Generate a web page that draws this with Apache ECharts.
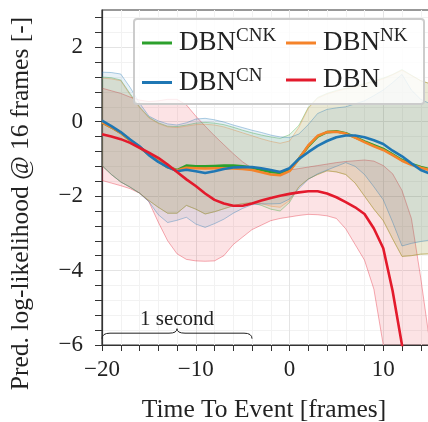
<!DOCTYPE html>
<html>
<head>
<meta charset="utf-8">
<script src="https://cdn.jsdelivr.net/npm/echarts@6/dist/echarts.min.js"></script>
<style>
html, body { margin: 0; padding: 0; background: #fff; }
#chart { width: 428px; height: 422px; }
</style>
</head>
<body>
<div id="chart"></div>
<script>
// time to event, one point per frame
var frames = [-20, -19, -18, -17, -16, -15, -14, -13, -12, -11, -10, -9, -8, -7, -6, -5, -4, -3, -2, -1,
    0, 1, 2, 3, 4, 5, 6, 7, 8, 9, 10, 11, 12, 13, 14, 15];

// mean predicted log-likelihood
var cnkMean = [-0.02, -0.15, -0.3, -0.5, -0.68, -0.88, -1.05, -1.22, -1.3, -1.18, -1.2, -1.2, -1.19, -1.18, -1.18, -1.2, -1.23, -1.3, -1.35, -1.38,
    -1.3, -1.0, -0.66, -0.4, -0.28, -0.26, -0.31, -0.42, -0.53, -0.63, -0.73, -0.88, -1.03, -1.14, -1.22, -1.28];
var nkMean = [-0.02, -0.15, -0.3, -0.5, -0.68, -0.88, -1.05, -1.22, -1.31, -1.24, -1.25, -1.26, -1.25, -1.25, -1.26, -1.27, -1.3, -1.36, -1.42, -1.44,
    -1.33, -1.0, -0.64, -0.38, -0.28, -0.27, -0.32, -0.43, -0.55, -0.66, -0.76, -0.9, -1.05, -1.16, -1.24, -1.3];
var cnMean = [0.03, -0.12, -0.28, -0.48, -0.66, -0.9, -1.08, -1.22, -1.33, -1.29, -1.33, -1.38, -1.33, -1.27, -1.23, -1.22, -1.22, -1.25, -1.3, -1.35,
    -1.25, -1.0, -0.82, -0.65, -0.52, -0.42, -0.37, -0.37, -0.42, -0.5, -0.6, -0.78, -0.93, -1.12, -1.3, -1.4];
var dbnMean = [-0.34, -0.4, -0.47, -0.57, -0.7, -0.83, -0.97, -1.15, -1.35, -1.55, -1.73, -1.93, -2.1, -2.2, -2.26, -2.26, -2.2, -2.12, -2.05, -1.99,
    -1.94, -1.9, -1.87, -1.87, -1.93, -2.03, -2.16, -2.3, -2.48, -2.87, -3.4, -4.55, -6.0, -7.5, -9.0, -10.5];

// band limits
var cnkHi = [1.2, 1.18, 1.12, 0.75, 0.4, 0.12, -0.03, -0.12, -0.13, -0.09, -0.04, -0.02, -0.04, -0.08, -0.15, -0.23, -0.3, -0.36, -0.41, -0.45,
    -0.35, -0.1, 0.38, 0.65, 0.76, 0.84, 0.9, 0.95, 1.02, 1.1, 1.17, 1.27, 1.4, 1.25, 1.1, 1.02];
var cnkLo = [-1.18, -1.42, -1.62, -1.76, -1.92, -2.12, -2.3, -2.46, -2.46, -2.25, -2.35, -2.48, -2.42, -2.34, -2.26, -2.2, -2.18, -2.25, -2.35, -2.4,
    -2.17, -1.75, -1.54, -1.42, -1.32, -1.35, -1.42, -1.65, -2.0, -2.35, -2.66, -3.15, -3.62, -3.6, -3.56, -3.55];
var nkHi = [1.17, 1.15, 1.1, 0.72, 0.38, 0.1, -0.05, -0.14, -0.16, -0.12, -0.08, -0.07, -0.09, -0.14, -0.22, -0.3, -0.38, -0.46, -0.53, -0.58,
    -0.52, -0.15, 0.36, 0.63, 0.74, 0.82, 0.88, 0.93, 1.0, 1.08, 1.15, 1.26, 1.38, 1.24, 1.1, 1.02];
var nkLo = [-1.18, -1.42, -1.62, -1.76, -1.92, -2.12, -2.3, -2.46, -2.46, -2.25, -2.35, -2.48, -2.42, -2.34, -2.26, -2.2, -2.18, -2.2, -2.27, -2.3,
    -2.12, -1.75, -1.54, -1.42, -1.32, -1.35, -1.42, -1.65, -2.0, -2.35, -2.66, -3.15, -3.62, -3.6, -3.56, -3.55];
var cnHi = [1.33, 1.32, 1.28, 0.92, 0.5, 0.15, 0.02, -0.06, -0.09, -0.03, 0.07, 0.09, 0.05, -0.01, -0.09, -0.16, -0.23, -0.29, -0.36, -0.41,
    -0.43, -0.33, -0.08, 0.22, 0.33, 0.37, 0.4, 0.48, 0.56, 0.7, 0.85, 1.05, 1.27, 0.85, 0.6, 0.48];
var cnLo = [-1.18, -1.42, -1.62, -1.76, -1.92, -2.15, -2.5, -2.71, -2.65, -2.57, -2.75, -2.84, -2.74, -2.62, -2.46, -2.33, -2.23, -2.21, -2.21, -2.2,
    -2.08, -1.8, -1.55, -1.4, -1.3, -1.2, -1.1, -1.2, -1.42, -1.75, -2.1, -2.7, -3.34, -3.27, -3.22, -3.18];
var dbnHi = [0.9, 0.83, 0.76, 0.66, 0.58, 0.54, 0.56, 0.6, 0.6, 0.45, 0.15, -0.12, -0.38, -0.62, -0.86, -1.08, -1.25, -1.3, -1.32, -1.33,
    -1.3, -1.26, -1.22, -1.18, -1.14, -1.1, -1.07, -1.05, -1.03, -1.06, -1.18, -1.4, -1.85, -2.6, -4.2, -6.0];
var dbnLo = [-1.58, -1.65, -1.72, -1.8, -1.92, -2.15, -2.7, -3.2, -3.55, -3.7, -3.74, -3.75, -3.74, -3.6, -3.3, -3.1, -2.9, -2.78, -2.66, -2.6,
    -2.56, -2.52, -2.49, -2.5, -2.53, -2.6, -2.88, -3.3, -3.72, -4.5, -6.0, -7.8, -9.6, -11.4, -13.2, -15.0];

var seriesNames = ['DBN^CNK', 'DBN^NK', 'DBN^CN', 'DBN'];
var yLabelValues = [-6, -4, -2, 0, 2];
var yTickValues = [];
for (var t = -15; t <= 7; t++) {
    yTickValues.push(+(t * 0.4).toFixed(1));
}

// annotation: brace over one second (16 frames)
var braceSpan = [-20, -4];
var braceLevel = -5.83;
var braceText = '1 second';

var serif = '"Liberation Serif", "Times New Roman", serif';
var ink = '#222222';
var colors = {
    cnk: '#2ca02c',
    nk: '#f5832a',
    cn: '#1f77b4',
    dbn: '#e31a2c'
};

function fade(hex, a) {
    var r = parseInt(hex.slice(1, 3), 16);
    var g = parseInt(hex.slice(3, 5), 16);
    var b = parseInt(hex.slice(5, 7), 16);
    return 'rgba(' + r + ',' + g + ',' + b + ',' + a + ')';
}

function minus(v) {
    return v < 0 ? '\u2212' + Math.abs(v) : '' + v;
}

function bandSeries(id, lo, hi, color, alpha) {
    return {
        type: 'custom',
        name: id,
        clip: true,
        silent: true,
        z: 1,
        data: frames.map(function (x, i) { return [x, lo[i], hi[i]]; }),
        encode: {x: 0, y: [1, 2]},
        renderItem: function (params, api) {
            if (params.dataIndex !== 0) {
                return;
            }
            var top = [];
            var bottom = [];
            for (var i = 0; i < frames.length; i++) {
                top.push(api.coord([frames[i], hi[i]]));
                bottom.unshift(api.coord([frames[i], lo[i]]));
            }
            return {
                type: 'polygon',
                shape: {points: top.concat(bottom)},
                style: {fill: fade(color, alpha), stroke: fade(color, 0.45), lineWidth: 0.8}
            };
        }
    };
}

function lineSeries(name, values, color) {
    return {
        type: 'line',
        name: name,
        data: frames.map(function (x, i) { return [x, values[i]]; }),
        showSymbol: false,
        symbol: 'none',
        silent: true,
        z: 2,
        lineStyle: {color: color, width: 2.6},
        itemStyle: {color: color}
    };
}

var braceSeries = {
    type: 'custom',
    name: 'brace',
    silent: true,
    clip: false,
    z: 3,
    data: [[braceSpan[0], braceSpan[1], braceLevel]],
    renderItem: function (params, api) {
        var p0 = api.coord([api.value(0), api.value(2)]);
        var p1 = api.coord([api.value(1), api.value(2)]);
        var x0 = p0[0], x1 = p1[0], y0 = p0[1];
        var xm = (x0 + x1) / 2;
        var h = 5.5, tip = 4.5, r = 8;
        var yh = y0 - h;
        var d = 'M' + x0 + ',' + y0 +
            ' Q' + x0 + ',' + yh + ' ' + (x0 + r) + ',' + yh +
            ' L' + (xm - r) + ',' + yh +
            ' Q' + xm + ',' + yh + ' ' + xm + ',' + (yh - tip) +
            ' Q' + xm + ',' + yh + ' ' + (xm + r) + ',' + yh +
            ' L' + (x1 - r) + ',' + yh +
            ' Q' + x1 + ',' + yh + ' ' + x1 + ',' + y0;
        return {
            type: 'group',
            children: [{
                type: 'path',
                shape: {pathData: d},
                style: {fill: null, stroke: ink, lineWidth: 1}
            }, {
                type: 'text',
                x: xm,
                y: yh - tip + 1,
                style: {
                    text: braceText,
                    textAlign: 'center',
                    textVerticalAlign: 'bottom',
                    font: '21px ' + serif,
                    fill: ink
                }
            }]
        };
    }
};

var legendRich = {
    b: {fontSize: 27, fontFamily: serif, color: ink, lineHeight: 32},
    s: {fontSize: 19, fontFamily: serif, color: ink, lineHeight: 32, verticalAlign: 'top'}
};

function legendName(name) {
    var p = name.split('^');
    return '{b|' + p[0] + '}' + (p[1] ? '{s|' + p[1] + '}' : '');
}

function legendBlock(names, left) {
    return {
        data: names,
        orient: 'vertical',
        left: left,
        top: 22,
        itemGap: 10,
        icon: 'rect',
        itemWidth: 30,
        itemHeight: 3,
        z: 5,
        selectedMode: false,
        formatter: legendName,
        textStyle: {fontFamily: serif, color: ink, fontSize: 27, rich: legendRich, padding: [0, 0, 0, 2]}
    };
}

var chart = echarts.init(document.getElementById('chart'), null, {renderer: 'canvas'});

chart.setOption({
    animation: false,
    backgroundColor: '#ffffff',
    grid: {
        left: 102,
        top: 10,
        right: -49,
        bottom: 77,
        containLabel: false,
        outerBoundsMode: 'none',
        show: true,
        borderColor: '#333333',
        borderWidth: 1.2,
        backgroundColor: '#ffffff'
    },
    graphic: [{
        type: 'rect',
        left: 133,
        top: 18,
        z: 4,
        shape: {width: 290, height: 85, r: 3},
        style: {fill: 'rgba(255,255,255,0.8)', stroke: '#cccccc', lineWidth: 2}
    }],
    legend: [
        legendBlock([seriesNames[0], seriesNames[2]], 137),
        legendBlock([seriesNames[1], seriesNames[3]], 281)
    ],
    xAxis: {
        type: 'value',
        min: -20,
        max: 20,
        interval: 10,
        name: 'Time To Event [frames]',
        nameLocation: 'middle',
        nameGap: 52,
        nameTextStyle: {fontFamily: serif, fontSize: 25.5, color: ink, padding: [0, 51, 0, 0]},
        axisLine: {show: true, onZero: false, lineStyle: {color: '#333333', width: 1.2}},
        axisTick: {show: true, length: 6, lineStyle: {color: '#333333'}},
        minorTick: {show: true, splitNumber: 5, length: 6, lineStyle: {color: '#333333'}},
        splitLine: {show: true, lineStyle: {color: '#e4e4e4', width: 1}},
        minorSplitLine: {show: true, lineStyle: {color: '#f2f2f2', width: 1}},
        axisLabel: {formatter: minus, fontFamily: serif, fontSize: 23, color: ink, margin: 13}
    },
    yAxis: {
        type: 'value',
        min: -6,
        max: 3,
        interval: 2,
        name: 'Pred. log-likelihood @ 16 frames [-]',
        nameLocation: 'middle',
        nameGap: 68,
        nameTextStyle: {fontFamily: serif, fontSize: 25.5, color: ink, padding: [0, 52, 0, 0]},
        axisLine: {show: true, onZero: false, lineStyle: {color: '#333333', width: 1.2}},
        axisTick: {show: true, length: 7, customValues: yTickValues, lineStyle: {color: '#333333'}},
        splitLine: {show: true, lineStyle: {color: '#e4e4e4', width: 1}},
        minorSplitLine: {show: true, lineStyle: {color: '#f2f2f2', width: 1}},
        minorTick: {show: false, splitNumber: 5},
        axisLabel: {customValues: yLabelValues, formatter: minus, fontFamily: serif, fontSize: 23, color: ink, margin: 19}
    },
    series: [
        bandSeries('band-dbn', dbnLo, dbnHi, colors.dbn, 0.12),
        bandSeries('band-cnk', cnkLo, cnkHi, colors.cnk, 0.1),
        bandSeries('band-nk', nkLo, nkHi, colors.nk, 0.1),
        bandSeries('band-cn', cnLo, cnHi, colors.cn, 0.1),
        lineSeries(seriesNames[0], cnkMean, colors.cnk),
        lineSeries(seriesNames[1], nkMean, colors.nk),
        lineSeries(seriesNames[2], cnMean, colors.cn),
        lineSeries(seriesNames[3], dbnMean, colors.dbn),
        braceSeries
    ]
});
</script>
</body>
</html>
